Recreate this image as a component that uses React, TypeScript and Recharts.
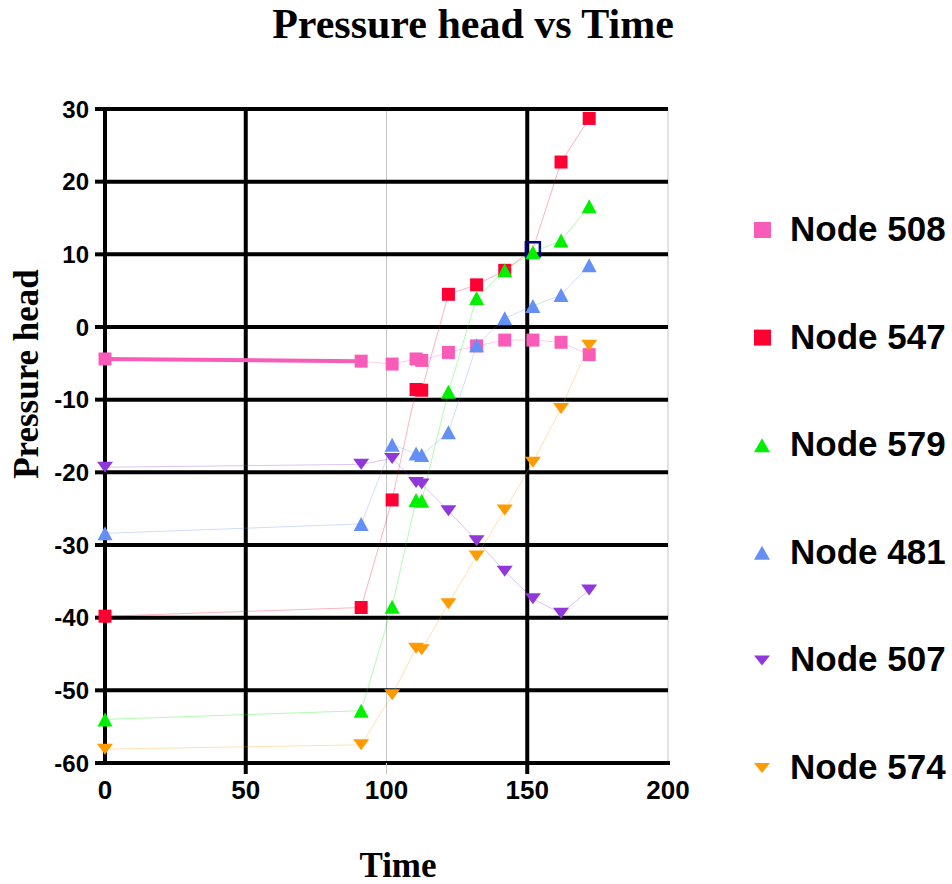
import { ScatterChart, Scatter, XAxis, YAxis, CartesianGrid } from "recharts";

// sample times (two readings close together around 111)
const TIMES = [0, 91, 102, 110.5, 112.5, 122, 132, 142, 152, 162, 172];

const NODE_508 = [-4.4, -4.7, -5.1, -4.4, -4.6, -3.5, -2.6, -1.8, -1.8, -2.1, -3.8];
const NODE_547 = [-39.8, -38.6, -23.8, -8.6, -8.7, 4.5, 5.8, 7.8, 10.7, 22.7, 28.7];
const NODE_579 = [-54.0, -52.8, -38.5, -23.8, -23.9, -8.9, 4.0, 7.8, 10.3, 11.9, 16.6];
const NODE_481 = [-28.4, -27.1, -16.2, -17.4, -17.6, -14.5, -2.5, 1.2, 2.9, 4.4, 8.5];
const NODE_507 = [-19.3, -18.9, -18.1, -21.4, -21.6, -25.3, -29.4, -33.6, -37.4, -39.4, -36.2];
const NODE_574 = [-58.1, -57.5, -50.6, -44.2, -44.4, -38.1, -31.5, -25.2, -18.6, -11.2, -2.5];

const X_TICKS = [0, 50, 100, 150, 200];
const Y_TICKS = [-60, -50, -40, -30, -20, -10, 0, 10, 20, 30];

// the selected point of Node 547
const SELECTED_TIME = 152;

type Kind = "square" | "up" | "down";

const SERIES: { name: string; values: number[]; color: string; kind: Kind }[] = [
  { name: "Node 508", values: NODE_508, color: "#F95CB8", kind: "square" },
  { name: "Node 547", values: NODE_547, color: "#FF0033", kind: "square" },
  { name: "Node 579", values: NODE_579, color: "#00F000", kind: "up" },
  { name: "Node 481", values: NODE_481, color: "#6490F5", kind: "up" },
  { name: "Node 507", values: NODE_507, color: "#9038DC", kind: "down" },
  { name: "Node 574", values: NODE_574, color: "#FF9A00", kind: "down" },
];

const toPoints = (values: number[]) => TIMES.map((t, i) => ({ t, v: values[i] }));

const SANS = "'Liberation Sans', Arial, Helvetica, sans-serif";
const SERIF = "'Liberation Serif', 'Times New Roman', Times, serif";

function Marker({ kind, color, cx, cy }: { kind: Kind; color: string; cx: number; cy: number }) {
  if (kind === "square") {
    return <rect x={cx - 6.5} y={cy - 6.5} width={13} height={13} fill={color} />;
  }
  if (kind === "up") {
    return <polygon points={`${cx},${cy - 7} ${cx + 7.5},${cy + 7} ${cx - 7.5},${cy + 7}`} fill={color} />;
  }
  return <polygon points={`${cx - 8},${cy - 5.5} ${cx + 8},${cy - 5.5} ${cx},${cy + 5.5}`} fill={color} />;
}

const XTick = ({ x, y, payload }: any) => {
  const v = payload.value;
  const gray = v === 100;
  const ext = v === 50 || v === 150 || v === 100;
  return (
    <g>
      {ext && (
        <line x1={x} x2={x} y1={y} y2={y + 11} stroke={gray ? "#c4c4c4" : "#000"} strokeWidth={gray ? 1 : 4} />
      )}
      <text x={x} y={y + 36} textAnchor="middle" fontFamily={SANS} fontWeight="bold" fontSize={26} fill="#000">
        {v}
      </text>
    </g>
  );
};

const App = () => {
  const pinkStart = toPoints(NODE_508).slice(0, 2);

  return (
    <div style={{ position: "absolute", left: 0, top: 0, width: 952, height: 884, background: "#fff" }}>
      <ScatterChart width={952} height={884} margin={{ top: 109, right: 284, bottom: 81, left: 45 }}>
        <CartesianGrid horizontal={false} verticalValues={[100, 200]} stroke="#c4c4c4" strokeWidth={1} />
        <CartesianGrid horizontal={false} verticalValues={[50, 150]} stroke="#000" strokeWidth={4} />
        <CartesianGrid vertical={false} stroke="#000" strokeWidth={4} />
        <XAxis
          type="number"
          dataKey="t"
          domain={[0, 200]}
          ticks={X_TICKS}
          height={40}
          tickSize={0}
          tickMargin={0}
          tickLine={false}
          axisLine={{ stroke: "#000", strokeWidth: 4, strokeLinecap: "square" }}
          tick={(p: any) => <XTick {...p} />}
        />
        <YAxis
          type="number"
          dataKey="v"
          domain={[-60, 30]}
          ticks={Y_TICKS}
          width={60}
          tickSize={10}
          tickMargin={6}
          tickLine={{ stroke: "#000", strokeWidth: 4 }}
          axisLine={{ stroke: "#000", strokeWidth: 4, strokeLinecap: "square" }}
          tick={{ fill: "#000", fontFamily: SANS, fontWeight: "bold", fontSize: 24 }}
        />
        <Scatter
          data={pinkStart}
          fill="#F95CB8"
          line={{ stroke: "#F95CB8", strokeWidth: 4 }}
          shape={() => <g />}
          isAnimationActive={false}
        />
        {SERIES.map(s => (
          <Scatter
            key={s.name}
            name={s.name}
            data={toPoints(s.values)}
            fill={s.color}
            line={{ stroke: s.color, strokeWidth: 1, strokeOpacity: 0.3 }}
            isAnimationActive={false}
            shape={(p: any) =>
              s.name === "Node 547" && p.payload && p.payload.t === SELECTED_TIME ? (
                <rect x={p.cx - 7} y={p.cy - 7} width={14} height={14} fill="none" stroke="#000080" strokeWidth={2.5} />
              ) : (
                <Marker kind={s.kind} color={s.color} cx={p.cx} cy={p.cy} />
              )
            }
          />
        ))}
      </ScatterChart>

      <svg width={952} height={884} style={{ position: "absolute", left: 0, top: 0, pointerEvents: "none" }}>
        <text x={473} y={38} textAnchor="middle" fontFamily={SERIF} fontWeight="bold" fontSize={42} fill="#000">
          Pressure head vs Time
        </text>
        <text
          transform="translate(38,374) rotate(-90)"
          textAnchor="middle"
          fontFamily={SERIF}
          fontWeight="bold"
          fontSize={35}
          fill="#000"
        >
          Pressure head
        </text>
        <text x={398} y={877} textAnchor="middle" fontFamily={SERIF} fontWeight="bold" fontSize={35} fill="#000">
          Time
        </text>
        {SERIES.map((s, i) => {
          const cy = 230 + i * 107.6;
          return (
            <g key={s.name}>
              {s.kind === "square" ? (
                <rect x={754} y={cy - 8} width={17} height={16} fill={s.color} />
              ) : s.kind === "up" ? (
                <polygon points={`${762},${cy - 7} ${770},${cy + 7} ${754},${cy + 7}`} fill={s.color} />
              ) : (
                <polygon points={`${754},${cy - 5} ${770},${cy - 5} ${762},${cy + 5}`} fill={s.color} />
              )}
              <text x={790} y={cy + 11} fontFamily={SANS} fontWeight="bold" fontSize={35} fill="#000">
                {s.name}
              </text>
            </g>
          );
        })}
      </svg>
    </div>
  );
};

export default App;
